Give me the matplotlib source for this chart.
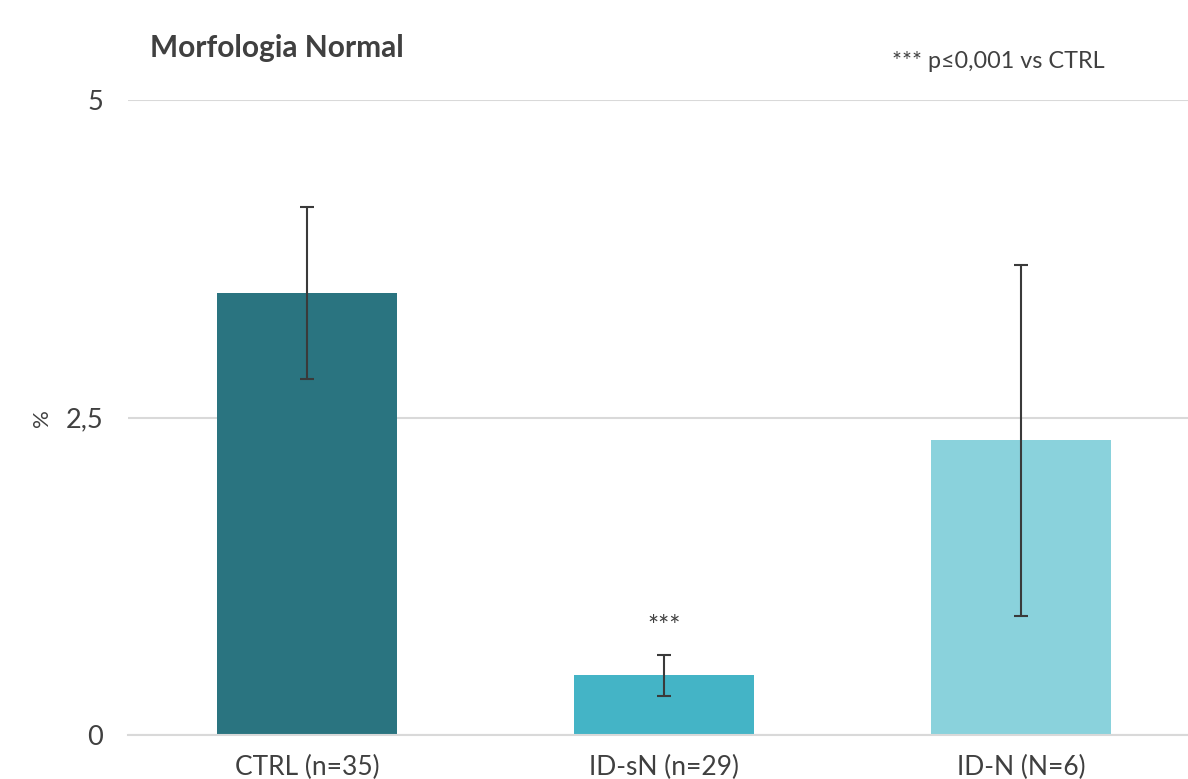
import matplotlib
matplotlib.use("Agg")
from matplotlib import pyplot as plt

# means and spread per group
groups = ["CTRL (n=35)", "ID-sN (n=29)", "ID-N (N=6)"]
means = [3.48, 0.47, 2.32]
errors = [0.68, 0.16, 1.38]
stars = ["", "***", ""]
yticks = [0, 2.5, 5]
ytick_labels = ["0", "2,5", "5"]

COLORS = ["#2a7480", "#44b4c6", "#8ad2dc"]
TEXT = "#404040"

plt.rcParams["font.family"] = ["Lato", "DejaVu Sans"]

fig = plt.figure(figsize=(11.88, 7.79), dpi=100)
ax = fig.add_axes([128 / 1188, 44 / 779, 1 - 128 / 1188, (735 - 100) / 779])

x = list(range(len(groups)))
ax.bar(x, means, width=0.504, color=COLORS, zorder=2)
ax.errorbar(x, means, yerr=errors, fmt="none", ecolor="#3a3a3a",
            elinewidth=1.5, capsize=5, capthick=1.5, zorder=3)

for xi, m, e, s in zip(x, means, errors, stars):
    if s:
        ax.text(xi, m + e + 0.12, s, ha="center", va="bottom",
                fontsize=19, color=TEXT)

ax.set_xlim(-0.501, 2.468)
ax.set_ylim(0, 5)
ax.set_yticks(yticks)
ax.set_yticklabels(ytick_labels)
ax.set_xticks(x)
ax.set_xticklabels(groups)
ax.tick_params(axis="y", length=0, labelsize=19.5, colors=TEXT, pad=18)
ax.tick_params(axis="x", length=0, labelsize=19, colors=TEXT, pad=14)

ax.yaxis.grid(True, color="#d9d9d9", linewidth=1.5, zorder=0)
ax.set_axisbelow(True)
for sp in ["top", "right", "left"]:
    ax.spines[sp].set_visible(False)
ax.spines["bottom"].set_color("#d9d9d9")
ax.spines["bottom"].set_linewidth(1.5)

fig.text(42 / 1188, 1 - 418 / 779, "%", rotation=90, ha="center", va="center",
         fontsize=16, color=TEXT)
fig.text(150 / 1188, 1 - 48 / 779, "Morfologia Normal", ha="left", va="center",
         fontsize=21.5, fontweight="bold", color=TEXT)
fig.text(892 / 1188, 1 - 61 / 779, "*** p≤0,001 vs CTRL", ha="left", va="center",
         fontsize=16.8, color=TEXT)

fig.savefig("out.png", dpi=100)
